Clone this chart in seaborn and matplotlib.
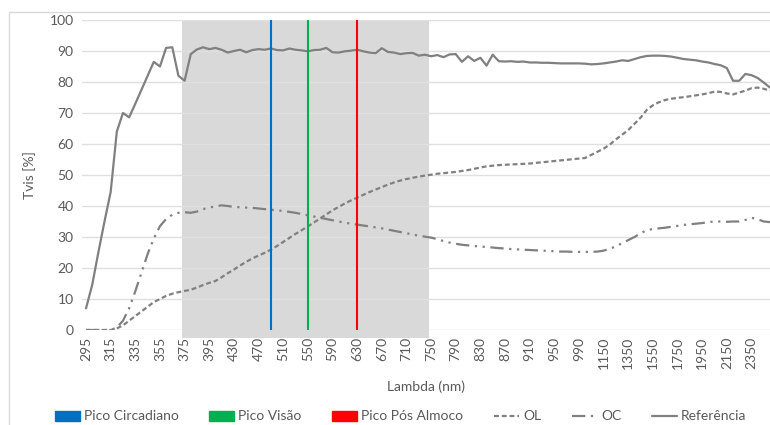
import numpy as np
import pandas as pd
import matplotlib.pyplot as plt
from matplotlib.patches import Patch, Rectangle
from matplotlib.lines import Line2D
import seaborn as sns

# comprimentos de onda (categorias do eixo x)
wavelengths = (list(range(295, 400, 5)) + list(range(400, 1000, 10))
               + list(range(1000, 2550, 50)))

referencia = [7, 14.5, 25, 35, 44.5, 64, 70, 68.6, 73, 77.5, 82, 86.5, 85, 91, 91.2, 82,
              80.4, 89, 90.5, 91.2, 90.6, 91, 90.4, 89.5, 90, 90.4, 89.6, 90.3, 90.6, 90.4,
              90.8, 90.3, 90.2, 90.8, 90.4, 90.2, 89.9, 90.3, 90.4, 91.0, 89.6, 89.5, 89.9, 90.1,
              90.4, 89.9, 89.5, 89.3, 90.9, 89.7, 89.5, 89.0, 89.3, 89.4, 88.5, 88.8, 88.3, 88.7,
              88.0, 88.9, 89.0, 86.5, 88.3, 86.8, 87.8, 85.3, 88.8, 86.7, 86.6, 86.7, 86.5, 86.6,
              86.3, 86.3, 86.2, 86.2, 86.1, 86.0, 86.0, 86.0, 86.0, 85.9, 85.7, 85.8, 86.0, 86.3,
              86.6, 87.0, 86.8, 87.4, 88.0, 88.4, 88.5, 88.5, 88.4, 88.2, 87.8, 87.4, 87.2, 87.0,
              86.6, 86.3, 85.8, 85.4, 84.5, 80.4, 80.4, 82.6, 82.2, 81.3, 79.8, 78.2]

ol = [0, 0, 0, 0, 0, 0.5, 1.5, 3, 4.5, 6, 7.5, 9, 10, 11, 11.7, 12.2,
      12.6, 13, 13.7, 14.5, 15.2, 15.8, 17, 18.3, 19.5, 20.8, 22, 23.1, 24, 24.9,
      25.9, 27.1, 28.4, 29.7, 31, 32.2, 33.4, 34.7, 36, 37.3, 38.6, 39.7, 40.8, 41.8,
      42.7, 43.6, 44.5, 45.3, 46.1, 46.9, 47.6, 48.2, 48.7, 49.1, 49.5, 49.8, 50.1, 50.4,
      50.6, 50.8, 51.0, 51.3, 51.6, 52.0, 52.4, 52.8, 53.0, 53.2, 53.3, 53.4, 53.5, 53.6,
      53.7, 53.9, 54.1, 54.3, 54.5, 54.7, 54.9, 55.1, 55.3, 55.5, 56.5, 57.5, 58.5, 59.8,
      61.5, 63, 64.5, 66.5, 68.5, 71, 72.5, 73.5, 74.2, 74.6, 74.9, 75.1, 75.4, 75.7,
      76, 76.4, 76.9, 76.8, 76.3, 76.0, 76.6, 77.2, 78.0, 78.2, 77.8, 77.2]

oc = [0, 0, 0, 0, 0, 0.8, 3, 7, 12.5, 18.5, 24.5, 29.5, 33.5, 35.8, 37.2, 37.8,
      38.0, 37.8, 38.2, 39.0, 39.5, 39.9, 40.2, 40.0, 39.7, 39.6, 39.5, 39.4, 39.2, 39.0,
      38.8, 38.6, 38.4, 38.1, 37.8, 37.4, 37.0, 36.6, 36.2, 35.8, 35.4, 35.0, 34.6, 34.3,
      34.0, 33.7, 33.4, 33.1, 32.8, 32.4, 32.0, 31.6, 31.2, 30.8, 30.4, 30.1, 29.8, 29.3,
      28.7, 28.2, 27.8, 27.5, 27.3, 27.1, 26.9, 26.8, 26.6, 26.4, 26.3, 26.1, 26.0, 25.9,
      25.8, 25.7, 25.6, 25.5, 25.4, 25.3, 25.3, 25.2, 25.2, 25.2, 25.2, 25.3, 25.6, 26.2,
      27.0, 28.0, 29.0, 30.0, 31.2, 32.2, 32.6, 32.8, 33.0, 33.3, 33.6, 33.9, 34.1, 34.3,
      34.5, 34.8, 35.0, 35.0, 34.9, 35.0, 35.0, 35.5, 36.2, 35.7, 35.0, 34.8]

# picos (nm) e faixa visivel sombreada
picos = [490, 550, 630]
picos_nomes = ['Pico Circadiano', 'Pico Visão', 'Pico Pós Almoco']
picos_cores = ['#0070C0', '#00B050', '#FF0000']
faixa = [375, 740]

sns.set_theme(style='white')
plt.rcParams['font.family'] = ['Lato', 'DejaVu Sans']

cinza = '#808080'
texto = '#595959'

pos = np.arange(len(wavelengths))
df = pd.DataFrame({'pos': np.tile(pos, 3),
                   'Tvis': referencia + ol + oc,
                   'serie': ['Referência'] * len(pos) + ['OL'] * len(pos) + ['OC'] * len(pos)})

fig = plt.figure(figsize=(7.7, 4.25), dpi=100)
ax = fig.add_axes([82 / 770, 1 - 330 / 425, 688 / 770, 310 / 425])

# faixa sombreada
i0 = wavelengths.index(faixa[0]) - 0.5
i1 = wavelengths.index(faixa[1]) + 0.6
ax.axvspan(i0, i1, ymin=-0.025, ymax=1, color='#d9d9d9', lw=0, zorder=0.5, clip_on=False)

for y in range(10, 101, 10):
    ax.axhline(y, color='#e0e0e0', lw=1, zorder=0.6)
ax.axhline(0, color='#d9d9d9', lw=1, zorder=0.6)

sns.lineplot(data=df, x='pos', y='Tvis', hue='serie', style='serie',
             palette={'Referência': cinza, 'OL': cinza, 'OC': cinza},
             dashes={'Referência': '', 'OL': (2.2, 1.3), 'OC': (6, 2.5, 1, 2.5, 1, 2.5)},
             lw=1.6, legend=False, ax=ax, zorder=3)

for p, c in zip(picos, picos_cores):
    ax.vlines(wavelengths.index(p), 0, 100, color=c, lw=1.5, zorder=4)

ax.set_xlim(-0.65, 111.0)
ax.set_ylim(0, 100)
ax.set_yticks(range(0, 101, 10))
ax.set_xticks(pos[::4])
ax.set_xticklabels([str(w) for w in wavelengths[::4]], rotation=90)
ax.tick_params(axis='both', length=0, labelsize=10, labelcolor=texto, pad=6)
ax.tick_params(axis='x', pad=5)
for s in ax.spines.values():
    s.set_visible(False)
ax.set_xlabel('Lambda (nm)', fontsize=10, color=texto, labelpad=8)
ax.set_ylabel('Tvis [%]', fontsize=10, color=texto, labelpad=10)

handles = [Patch(color=c) for c in picos_cores]
handles += [Line2D([], [], color=cinza, lw=1.6, dashes=(2.2, 1.3)),
            Line2D([], [], color=cinza, lw=1.6, dashes=(6, 2.5, 1, 2.5, 1, 2.5)),
            Line2D([], [], color=cinza, lw=1.6)]
labels = picos_nomes + ['OL', 'OC', 'Referência']
leg = fig.legend(handles, labels, loc='center', bbox_to_anchor=(0.52, 0.02), ncol=6,
                 frameon=False, fontsize=10, handlelength=1.8, handletextpad=0.3,
                 columnspacing=2.2)
for t in leg.get_texts():
    t.set_color(texto)

fig.patches.append(Rectangle((9 / 770, -0.1), 1.2, 1 - 12 / 425 + 0.1,
                             transform=fig.transFigure, fill=False,
                             edgecolor='#d9d9d9', lw=1))

fig.savefig('out.png', dpi=100)
